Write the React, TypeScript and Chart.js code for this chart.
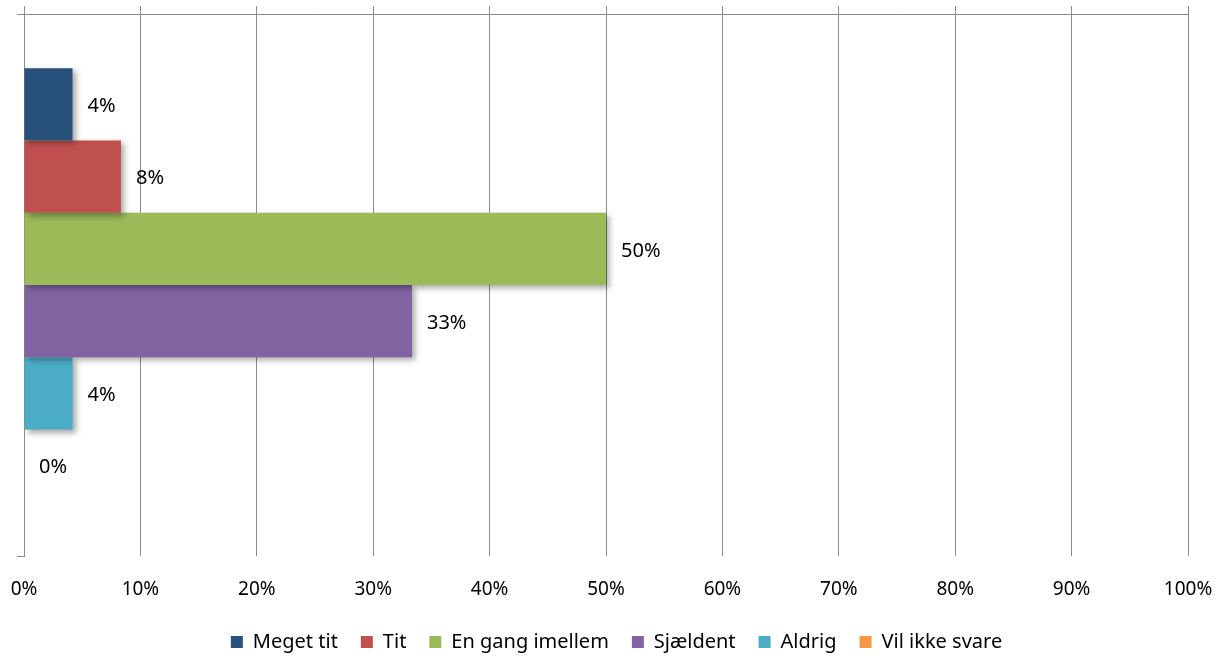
import React, { useEffect, useRef } from "react";
import { Chart, registerables } from "chart.js";

Chart.register(...registerables);

const categories = [""];
const seriesNames = ["Meget tit", "Tit", "En gang imellem", "Sjældent", "Aldrig", "Vil ikke svare"];
const seriesValues = [4.17, 8.33, 50, 33.33, 4.17, 0];
const seriesLabels = ["4%", "8%", "50%", "33%", "4%", "0%"];
const seriesColors = ["#27517b", "#c0504d", "#9bbb59", "#8064a2", "#4bacc6", "#f79646"];

const FONT = "'Noto Sans', 'Open Sans', sans-serif";
const GRID = "#8c8c8c";

const shadowPlugin = {
  id: "barShadow",
  beforeDatasetsDraw(chart: any) {
    const ctx = chart.ctx;
    ctx.save();
    ctx.shadowColor = "rgba(0,0,0,0.35)";
    ctx.shadowBlur = 6;
    ctx.shadowOffsetX = 3;
    ctx.shadowOffsetY = 3;
  },
  afterDatasetsDraw(chart: any) {
    chart.ctx.restore();
  },
};

const valueLabelPlugin = {
  id: "valueLabels",
  afterDraw(chart: any) {
    const ctx = chart.ctx;
    ctx.save();
    ctx.font = `20px ${FONT}`;
    ctx.fillStyle = "#000";
    ctx.textAlign = "left";
    ctx.textBaseline = "middle";
    chart.data.datasets.forEach((ds: any, i: number) => {
      const meta = chart.getDatasetMeta(i);
      const el = meta.data[0];
      if (!el) return;
      ctx.fillText(seriesLabels[i], el.x + 15, el.y + 2);
    });
    ctx.restore();
  },
};

const legendShiftPlugin = {
  id: "legendShift",
  afterLayout(chart: any) {
    const lg = chart.legend;
    if (lg) {
      lg.left += 14;
      lg.right += 14;
    }
  },
};

export default function App() {
  const ref = useRef<HTMLCanvasElement>(null);
  useEffect(() => {
    document.body.style.margin = "0";
    const chart = new Chart(ref.current!, {
      type: "bar",
      data: {
        labels: categories,
        datasets: seriesNames.map((name, i) => ({
          label: name,
          data: [seriesValues[i]],
          backgroundColor: seriesColors[i],
          categoryPercentage: 0.8,
          barPercentage: 1,
          xAxisID: "x",
        })),
      },
      options: {
        indexAxis: "y",
        animation: false,
        responsive: true,
        maintainAspectRatio: false,
        layout: { padding: { left: 17, right: 33, top: 6, bottom: -3 } },
        scales: {
          x: {
            type: "linear",
            position: "bottom",
            min: 0,
            max: 100,
            afterFit: (s: any) => {
              s.paddingLeft = 0;
              s.paddingRight = 0;
              s.height = 53;
            },
            ticks: {
              stepSize: 10,
              callback: (v: any) => `${v}%`,
              font: { family: FONT, size: 19 },
              color: "#000",
              padding: 22,
            },
            grid: { color: GRID, drawTicks: false, lineWidth: 1 },
            border: { display: false },
          },
          x2: {
            type: "linear",
            position: "top",
            min: 0,
            max: 100,
            display: true,
            afterFit: (s: any) => {
              s.paddingLeft = 0;
              s.paddingRight = 0;
            },
            ticks: { stepSize: 10, display: false },
            grid: { color: GRID, drawOnChartArea: false, drawTicks: true, tickLength: 8 },
            border: { display: true, color: GRID },
          },
          y: {
            type: "category",
            offset: true,
            afterFit: (s: any) => {
              s.width = 7;
            },
            ticks: { display: false },
            grid: { offset: true, color: GRID, drawOnChartArea: false, drawTicks: true, tickLength: 7 },
            border: { display: true, color: GRID },
          },
        },
        plugins: {
          legend: {
            position: "bottom",
            labels: {
              boxWidth: 12,
              boxHeight: 12,
              padding: 23,
              color: "#000",
              font: { family: FONT, size: 20 },
            },
          },
          tooltip: { enabled: false },
        },
      },
      plugins: [shadowPlugin, valueLabelPlugin, legendShiftPlugin],
    });
    return () => chart.destroy();
  }, []);
  return (
    <div style={{ width: 1221, height: 659, position: "relative" }}>
      <canvas ref={ref} />
    </div>
  );
}
